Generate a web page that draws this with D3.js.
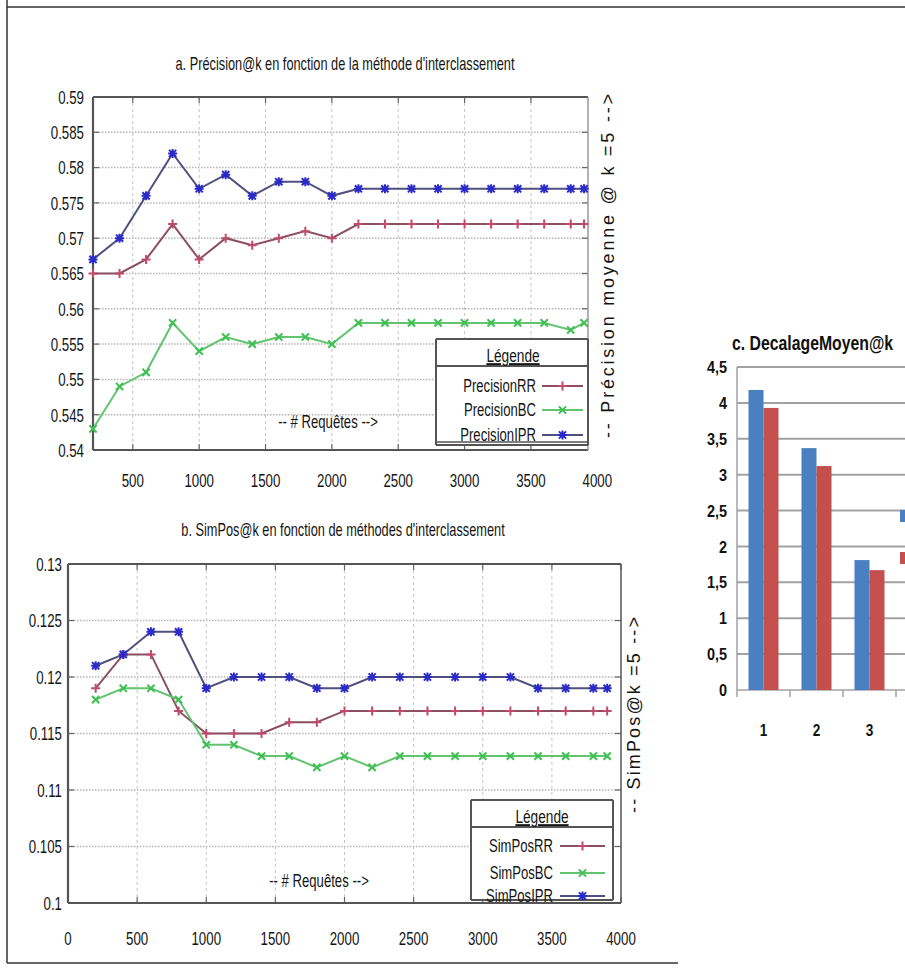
<!DOCTYPE html>
<html><head><meta charset="utf-8">
<script src="https://cdn.jsdelivr.net/npm/d3@7"></script>
<style>body{margin:0;background:#fff}svg{display:block}</style>
</head><body>
<script>
// ---------- DATA ----------
const requetes = [200,400,600,800,1000,1200,1400,1600,1800,2000,2200,2400,2600,2800,3000,3200,3400,3600,3800,3900];

const precisionRR  = [0.565,0.565,0.567,0.572,0.567,0.570,0.569,0.570,0.571,0.570,0.572,0.572,0.572,0.572,0.572,0.572,0.572,0.572,0.572,0.572];
const precisionBC  = [0.543,0.549,0.551,0.558,0.554,0.556,0.555,0.556,0.556,0.555,0.558,0.558,0.558,0.558,0.558,0.558,0.558,0.558,0.557,0.558];
const precisionIPR = [0.567,0.570,0.576,0.582,0.577,0.579,0.576,0.578,0.578,0.576,0.577,0.577,0.577,0.577,0.577,0.577,0.577,0.577,0.577,0.577];

const simPosRR  = [0.119,0.122,0.122,0.117,0.115,0.115,0.115,0.116,0.116,0.117,0.117,0.117,0.117,0.117,0.117,0.117,0.117,0.117,0.117,0.117];
const simPosBC  = [0.118,0.119,0.119,0.118,0.114,0.114,0.113,0.113,0.112,0.113,0.112,0.113,0.113,0.113,0.113,0.113,0.113,0.113,0.113,0.113];
const simPosIPR = [0.121,0.122,0.124,0.124,0.119,0.120,0.120,0.120,0.119,0.119,0.120,0.120,0.120,0.120,0.120,0.120,0.119,0.119,0.119,0.119];

const xTicksA = [500,1000,1500,2000,2500,3000,3500,4000];
const yTicksA = [0.54,0.545,0.55,0.555,0.56,0.565,0.57,0.575,0.58,0.585,0.59];
const yLabelsA = ["0.54","0.545","0.55","0.555","0.56","0.565","0.57","0.575","0.58","0.585","0.59"];
const xTicksB = [0,500,1000,1500,2000,2500,3000,3500,4000];
const yTicksB = [0.1,0.105,0.11,0.115,0.12,0.125,0.13];
const yLabelsB = ["0.1","0.105","0.11","0.115","0.12","0.125","0.13"];

const seriesNamesA = ["PrecisionRR","PrecisionBC","PrecisionIPR"];
const seriesNamesB = ["SimPosRR","SimPosBC","SimPosIPR"];

const decCategories = ["1","2","3","4"];
const decBlue = [4.18,3.37,1.81];
const decRed  = [3.93,3.12,1.67];
const yTicksC = [0,0.5,1,1.5,2,2.5,3,3.5,4,4.5];
const yLabelsC = ["0","0,5","1","1,5","2","2,5","3","3,5","4","4,5"];

// ---------- SETUP ----------
const W = 905, H = 975;
const svg = d3.select("body").append("svg").attr("width", W).attr("height", H);
const SANS = "'Liberation Sans',Arial,sans-serif";

function txt(g, x, y, str, o){
  o = o || {};
  const t = g.append("text")
    .attr("transform", `translate(${x},${y}) scale(${o.sx||0.7},1)`)
    .attr("text-anchor", o.anchor || "start")
    .attr("font-family", SANS)
    .attr("font-size", o.size || 18)
    .attr("font-weight", o.weight || "normal")
    .attr("fill", o.fill || "#151515")
    .text(str);
  if (o.dy) t.attr("dy", o.dy);
  if (o.underline) t.attr("text-decoration","underline");
  return t;
}

// figure frame
svg.append("line").attr("x1",7).attr("x2",7).attr("y1",0).attr("y2",963).attr("stroke","#333").attr("stroke-width",1.5);
svg.append("line").attr("x1",7).attr("x2",905).attr("y1",7).attr("y2",7).attr("stroke","#333").attr("stroke-width",1.5);
svg.append("line").attr("x1",7).attr("x2",678).attr("y1",963).attr("y2",963).attr("stroke","#333").attr("stroke-width",1.5);

const styles = [
  {line:"#8c4f62", mark:"#c04a6a", shape:"plus"},
  {line:"#62c46e", mark:"#3cc050", shape:"cross"},
  {line:"#50507e", mark:"#2a2ac8", shape:"star"}
];

function marker(g, cx, cy, shape, color){
  const s = 4.5;
  const p = d3.path();
  if (shape==="plus"||shape==="star"){ p.moveTo(cx-s,cy); p.lineTo(cx+s,cy); p.moveTo(cx,cy-s); p.lineTo(cx,cy+s); }
  if (shape==="cross"||shape==="star"){ p.moveTo(cx-s*0.8,cy-s*0.8); p.lineTo(cx+s*0.8,cy+s*0.8); p.moveTo(cx-s*0.8,cy+s*0.8); p.lineTo(cx+s*0.8,cy-s*0.8); }
  g.append("path").attr("d",p.toString()).attr("stroke",color).attr("stroke-width",2).attr("fill","none");
}

function linePanel(c){
  const g = svg.append("g");
  const x = d3.scaleLinear(c.xDomain, [c.left, c.right]);
  const y = d3.scaleLinear(c.yDomain, [c.bottom, c.top]);
  // grid
  c.yTicks.forEach(t=>{
    if (t>c.yDomain[0]+1e-9 && t<c.yDomain[1]-1e-9)
      g.append("line").attr("x1",c.left).attr("x2",c.right).attr("y1",y(t)).attr("y2",y(t))
        .attr("stroke","#b4b4b4").attr("stroke-width",1.5).attr("stroke-dasharray","1.5,1.5");
  });
  c.xTicks.forEach(t=>{
    if (x(t)>c.left+2 && x(t)<c.right-2)
      g.append("line").attr("x1",x(t)).attr("x2",x(t)).attr("y1",c.top).attr("y2",c.bottom)
        .attr("stroke","#c4c4c4").attr("stroke-width",1).attr("stroke-dasharray","3,3");
  });
  // inward ticks
  c.yTicks.forEach(t=>{
    g.append("line").attr("x1",c.left).attr("x2",c.left+6).attr("y1",y(t)).attr("y2",y(t)).attr("stroke","#666").attr("stroke-width",1.2);
    g.append("line").attr("x1",c.right).attr("x2",c.right-6).attr("y1",y(t)).attr("y2",y(t)).attr("stroke","#666").attr("stroke-width",1.2);
  });
  c.xTicks.forEach(t=>{
    if (x(t)<=c.right+1){
      g.append("line").attr("x1",x(t)).attr("x2",x(t)).attr("y1",c.bottom).attr("y2",c.bottom-6).attr("stroke","#666").attr("stroke-width",1.2);
      g.append("line").attr("x1",x(t)).attr("x2",x(t)).attr("y1",c.top).attr("y2",c.top+6).attr("stroke","#666").attr("stroke-width",1.2);
    }
  });
  // frame
  g.append("line").attr("x1",c.left).attr("x2",c.right).attr("y1",c.top).attr("y2",c.top).attr("stroke","#555").attr("stroke-width",2.2);
  g.append("line").attr("x1",c.left).attr("x2",c.right).attr("y1",c.bottom).attr("y2",c.bottom).attr("stroke","#555").attr("stroke-width",2.2);
  g.append("line").attr("x1",c.left).attr("x2",c.left).attr("y1",c.top).attr("y2",c.bottom).attr("stroke","#555").attr("stroke-width",2.2);
  g.append("line").attr("x1",c.right).attr("x2",c.right).attr("y1",c.top).attr("y2",c.bottom).attr("stroke",c.rightColor).attr("stroke-width",1.5);
  // tick labels
  c.yTicks.forEach((t,i)=> txt(g, c.left-c.yLabelGap, y(t), c.yLabels[i], {anchor:"end", dy:"0.36em", size:19}));
  c.xTicks.forEach(t=> txt(g, x(t), c.bottom+c.xLabelGap, String(t), {anchor:"middle", size:19}));
  // title
  txt(g, c.titleX, c.titleY, c.title, {anchor:"middle", size:18, sx:0.71});
  // x label
  txt(g, c.xlabX, c.xlabY, "-- # Requêtes -->", {anchor:"middle", size:18, sx:0.73});
  // right label
  g.append("text").attr("transform",`translate(${c.rlabX},${c.rlabY}) rotate(-90)`).attr("text-anchor","middle")
    .attr("font-family",SANS).attr("font-size",18).attr("fill","#151515")
    .attr("textLength",c.rlabLen).attr("lengthAdjust","spacing").text(c.rlab);
  // series
  const lineGen = d3.line().x((d,i)=>x(requetes[i])).y(d=>y(d));
  c.series.forEach((s,k)=>{
    g.append("path").attr("d",lineGen(s)).attr("fill","none").attr("stroke",styles[k].line).attr("stroke-width",2);
    s.forEach((v,i)=>marker(g, x(requetes[i]), y(v), styles[k].shape, styles[k].mark));
  });
  // legend
  const L = c.legend;
  const lg = g.append("g");
  lg.append("rect").attr("x",L.x0).attr("y",L.y0).attr("width",L.x1-L.x0).attr("height",L.y1-L.y0).attr("fill","#fff");
  const bl = (x1,y1,x2,y2,w)=>lg.append("line").attr("x1",x1).attr("y1",y1).attr("x2",x2).attr("y2",y2).attr("stroke","#555").attr("stroke-width",w||2);
  bl(L.x0,L.y0,L.x1,L.y0); bl(L.x0,L.sep,L.x1,L.sep); bl(L.x0,L.y1,L.x1,L.y1);
  bl(L.x0,L.y0,L.x0,L.y1); bl(L.x1,L.y0,L.x1,L.y1);
  if (L.double) bl(L.x0,L.y1-3,L.x1,L.y1-3,1.5);
  txt(lg, L.titleX, L.sep-4, "Légende", {anchor:"middle", size:19, sx:0.72, underline:true});
  c.names.forEach((n,k)=>{
    const yy = L.rows[k];
    txt(lg, L.textX, yy, n, {anchor:"end", size:19, sx:0.69});
    lg.append("line").attr("x1",L.s0).attr("x2",L.s1).attr("y1",yy-6).attr("y2",yy-6).attr("stroke",styles[k].line).attr("stroke-width",2);
    marker(lg,(L.s0+L.s1)/2,yy-6,styles[k].shape,styles[k].mark);
  });
}

linePanel({
  left:93, right:588, top:97, bottom:450, rightColor:"#999",
  xDomain:[200,3930], yDomain:[0.54,0.59],
  xTicks:xTicksA, yTicks:yTicksA, yLabels:yLabelsA, yLabelGap:9, xLabelGap:37,
  title:"a. Précision@k en fonction de la méthode d'interclassement", titleX:345, titleY:70,
  xlabX:328, xlabY:428,
  rlab:"-- Précision moyenne @ k =5 -->", rlabX:614, rlabY:266, rlabLen:344,
  series:[precisionRR, precisionBC, precisionIPR], names:seriesNamesA,
  legend:{x0:436,x1:588,y0:339,sep:366,y1:445,double:true,titleX:513,
          rows:[392,416,441], textX:536, s0:542, s1:583}
});

linePanel({
  left:68, right:621, top:564, bottom:903, rightColor:"#555",
  xDomain:[0,4000], yDomain:[0.1,0.13],
  xTicks:xTicksB, yTicks:yTicksB, yLabels:yLabelsB, yLabelGap:6, xLabelGap:42,
  title:"b. SimPos@k en fonction de méthodes d'interclassement", titleX:343, titleY:536,
  xlabX:319, xlabY:887,
  rlab:"-- SimPos@k =5 -->", rlabX:640, rlabY:715, rlabLen:196,
  series:[simPosRR, simPosBC, simPosIPR], names:seriesNamesB,
  legend:{x0:471,x1:613,y0:800,sep:827,y1:900,double:false,titleX:542,
          rows:[852,879,902], textX:553, s0:560, s1:605}
});

// ---------- PANEL C (bars) ----------
const gc = svg.append("g");
const yC = d3.scaleLinear([0,4.5],[690,367]);
const xC = d3.scaleBand(decCategories,[737,949]).paddingInner(0.434).paddingOuter(0.217);
const xSub = d3.scaleBand(["blue","red"],[0,xC.bandwidth()]);
yTicksC.forEach((t,i)=>{
  if (t>0) gc.append("line").attr("x1",737).attr("x2",W).attr("y1",yC(t)).attr("y2",yC(t)).attr("stroke","#a2a2a2").attr("stroke-width",2);
  txt(gc, 727, yC(t), yLabelsC[i], {anchor:"end", dy:"0.36em", size:17, weight:"bold", fill:"#111", sx:0.85});
});
gc.append("line").attr("x1",737).attr("x2",737).attr("y1",yC(4.5)).attr("y2",yC(0)+7).attr("stroke","#a2a2a2").attr("stroke-width",1.5);
gc.append("line").attr("x1",737).attr("x2",W).attr("y1",yC(0)).attr("y2",yC(0)).attr("stroke","#a2a2a2").attr("stroke-width",1.5);
decCategories.forEach(cat=>{
  const bx = xC(cat) - xC.step()*xC.paddingInner()/2 + xC.step();
  gc.append("line").attr("x1",bx).attr("x2",bx).attr("y1",yC(0)).attr("y2",yC(0)+7).attr("stroke","#a2a2a2").attr("stroke-width",1.5);
});
decBlue.forEach((v,i)=>{
  const cat = decCategories[i];
  txt(gc, xC(cat)+xC.bandwidth()/2, 736, cat, {anchor:"middle", size:16, weight:"bold", fill:"#111", sx:0.85});
  gc.append("rect").attr("x",xC(cat)+xSub("blue")).attr("y",yC(v)).attr("width",xSub.bandwidth()).attr("height",yC(0)-yC(v)).attr("fill","#4a7fc1");
});
decRed.forEach((v,i)=>{
  gc.append("rect").attr("x",xC(decCategories[i])+xSub("red")).attr("y",yC(v)).attr("width",xSub.bandwidth()).attr("height",yC(0)-yC(v)).attr("fill","#c4504e");
});
txt(gc, 732, 350, "c. DecalageMoyen@k", {size:20, weight:"bold", fill:"#111", sx:0.79});
// legend swatches (cropped)
gc.append("rect").attr("x",900).attr("y",510).attr("width",10).attr("height",12).attr("fill","#4a7fc1");
gc.append("rect").attr("x",900).attr("y",552).attr("width",10).attr("height",12).attr("fill","#c4504e");
</script>
</body></html>
